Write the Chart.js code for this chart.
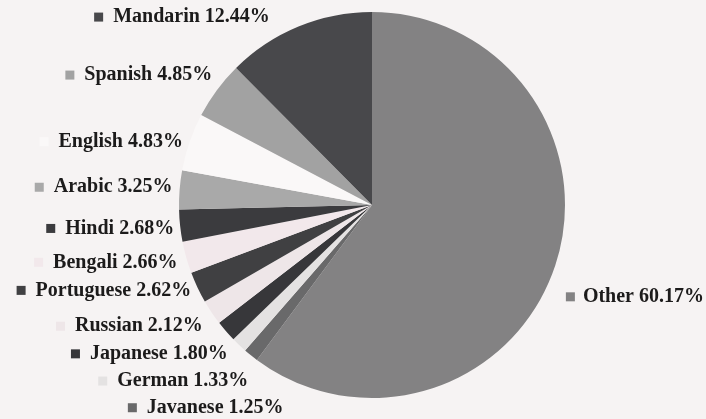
<!DOCTYPE html>
<html>
<head>
<meta charset="utf-8">
<script src="https://cdn.jsdelivr.net/npm/chart.js@4/dist/chart.umd.min.js"></script>
<style>
  html, body { margin: 0; padding: 0; background: #f6f3f3; }
  #wrap { width: 706px; height: 419px; position: relative; }
</style>
</head>
<body>
<div id="wrap"><canvas id="c"></canvas></div>
<script>
// ---- data (clockwise from 12 o'clock) ----
const languages = ['Other', 'Javanese', 'German', 'Japanese', 'Russian', 'Portuguese',
                   'Bengali', 'Hindi', 'Arabic', 'English', 'Spanish', 'Mandarin'];
const shares = [60.17, 1.25, 1.33, 1.80, 2.12, 2.62, 2.66, 2.68, 3.25, 4.83, 4.85, 12.44];

// ---- styles ----
const sliceColors = ['#838283', '#69696a', '#e4e2e2', '#37373a', '#eee6e8', '#404042',
                     '#f2e8eb', '#3b3b3e', '#a9a9a9', '#faf8f8', '#a2a2a2', '#48484b'];
// label layout offsets (dx, dy) from the outside-end anchor of each slice
const labelNudge = [[4, 29], [37, 47], [14, 31], [7, 18], [-3, 10], [0, 0],
                    [-2, 3], [1, 2], [0, -2], [0, 2], [1, -11], [-26, -3]];

const labelPlugin = {
  id: 'outsideLabels',
  afterDatasetsDraw(chart) {
    const ctx = chart.ctx;
    const meta = chart.getDatasetMeta(0);
    ctx.save();
    ctx.font = 'bold 20px "Liberation Serif"';
    ctx.textBaseline = 'middle';
    meta.data.forEach((arc, i) => {
      const p = arc.getProps(['x', 'y', 'startAngle', 'endAngle', 'outerRadius'], true);
      const mid = (p.startAngle + p.endAngle) / 2;
      const R = p.outerRadius + 7;
      const ax = p.x + Math.cos(mid) * R + labelNudge[i][0];
      const ay = p.y + Math.sin(mid) * R + labelNudge[i][1];
      const text = languages[i] + ' ' + shares[i].toFixed(2) + '%';
      const w = ctx.measureText(text).width;
      let tx, mx;
      if (Math.cos(mid) < 0) { tx = ax - w; mx = tx - 19; }
      else { mx = ax; tx = ax + 17; }
      ctx.fillStyle = sliceColors[i];
      ctx.fillRect(mx, ay - 4.5, 9, 9);
      ctx.fillStyle = '#1c1b1b';
      ctx.textAlign = 'left';
      ctx.fillText(text, tx, ay);
    });
    ctx.restore();
  }
};

new Chart(document.getElementById('c'), {
  type: 'pie',
  data: {
    labels: languages,
    datasets: [{
      data: shares,
      backgroundColor: sliceColors,
      borderWidth: 0
    }]
  },
  options: {
    responsive: true,
    maintainAspectRatio: false,
    animation: false,
    layout: { padding: { top: 12, bottom: 21, left: 179, right: 141 } },
    plugins: { legend: { display: false }, tooltip: { enabled: false } }
  },
  plugins: [labelPlugin]
});
</script>
</body>
</html>
